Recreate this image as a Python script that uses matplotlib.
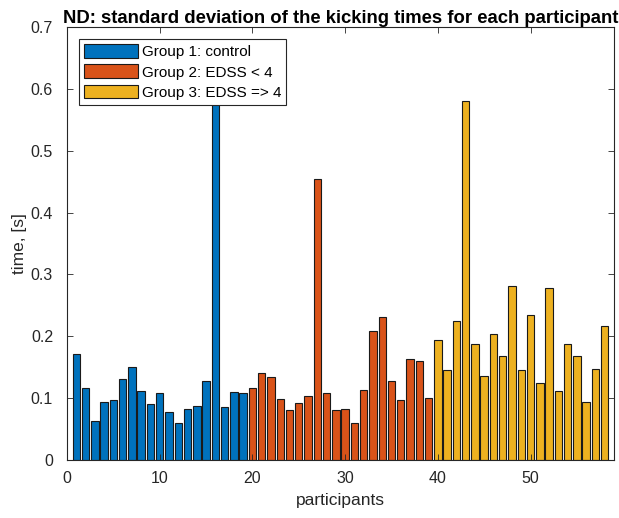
import matplotlib
matplotlib.use("Agg")
import matplotlib.pyplot as plt
import numpy as np

plt.rcParams['font.family'] = ['Liberation Sans', 'DejaVu Sans']

group1_x = list(range(1, 20))
group1_vals = [0.171, 0.117, 0.063, 0.093, 0.097, 0.131, 0.150, 0.111, 0.090, 0.109,
               0.078, 0.060, 0.083, 0.087, 0.128, 0.600, 0.085, 0.110, 0.108]
group2_x = list(range(20, 40))
group2_vals = [0.117, 0.140, 0.134, 0.098, 0.081, 0.092, 0.103, 0.454, 0.108, 0.081,
               0.082, 0.060, 0.113, 0.209, 0.231, 0.128, 0.097, 0.163, 0.160, 0.100]
group3_x = list(range(40, 59))
group3_vals = [0.194, 0.146, 0.225, 0.581, 0.188, 0.135, 0.204, 0.168, 0.281, 0.146,
               0.235, 0.125, 0.278, 0.112, 0.188, 0.168, 0.094, 0.147, 0.217]
labels = ["Group 1: control", "Group 2: EDSS < 4", "Group 3: EDSS => 4"]
colors = ["#0072BD", "#D95319", "#EDB120"]

fig = plt.figure(figsize=(6.19, 5.18), dpi=100)
ax = fig.add_axes([67/619, 58/518, 547/619, 433/518])

for xs, vs, lab, c in zip([group1_x, group2_x, group3_x],
                          [group1_vals, group2_vals, group3_vals], labels, colors):
    ax.bar(xs, vs, width=0.8, color=c, edgecolor="#1a1a1a", linewidth=0.8, label=lab)

ax.set_xlim(0, 59)
ax.set_ylim(0, 0.7)
ax.set_xticks([0, 10, 20, 30, 40, 50])
ax.set_yticks(np.arange(0, 0.71, 0.1))
ax.set_yticklabels(["0", "0.1", "0.2", "0.3", "0.4", "0.5", "0.6", "0.7"])
ax.tick_params(direction="in", top=True, right=True, labelsize=11.5, colors="#262626",
               length=4, width=0.6)
ax.tick_params(axis="y", pad=10)
ax.tick_params(axis="x", pad=8)
for s in ax.spines.values():
    s.set_color("#262626")
    s.set_linewidth(0.8)
ax.set_xlabel("participants", fontsize=12.5, color="#262626", labelpad=5)
ax.set_ylabel("time, [s]", fontsize=12.5, color="#262626", labelpad=3)
ax.set_title("ND: standard deviation of the kicking times for each participant",
             fontsize=13.3, fontweight="bold", pad=3)
leg = ax.legend(loc="upper left", fontsize=11, fancybox=False, framealpha=1,
                edgecolor="#262626", borderpad=0.35, labelspacing=0.33,
                handlelength=3.5, handleheight=1.0, handletextpad=0.25,
                borderaxespad=0, bbox_to_anchor=(12/547, 1 - 12/433))
leg.get_frame().set_linewidth(0.8)
leg.set_zorder(5)

fig.savefig("out.png", dpi=100)
